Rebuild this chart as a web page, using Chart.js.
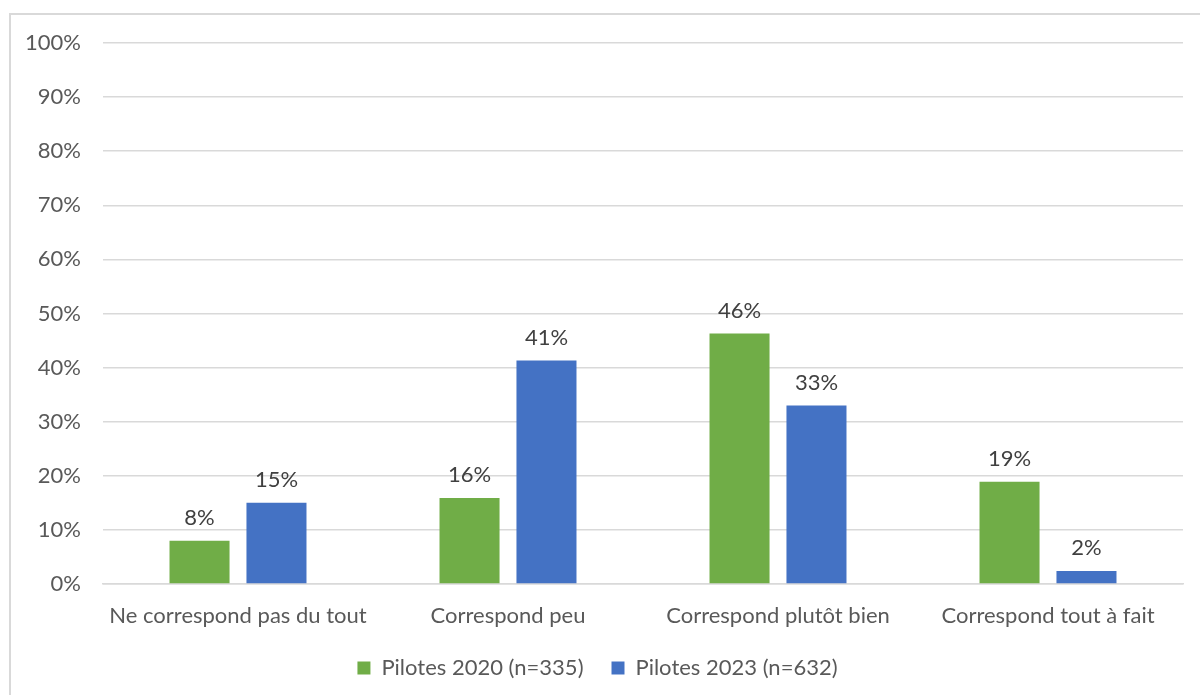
<!DOCTYPE html>
<html>
<head>
<meta charset="utf-8">
<script src="https://cdn.jsdelivr.net/npm/chart.js@4.4.1/dist/chart.umd.min.js"></script>
<style>
  html, body { margin: 0; padding: 0; background: #fff; overflow: hidden; }
  #frame { position: absolute; left: 0; top: 0; width: 1200px; height: 695px; }
  #border { position: absolute; left: 9px; top: 13px; width: 1300px; height: 800px;
            border-left: 2px solid #d9d9d9; border-top: 2px solid #d9d9d9; box-sizing: border-box; }
  canvas { position: absolute; left: 0; top: 0; }
</style>
</head>
<body>
<div id="frame">
  <div id="border"></div>
  <canvas id="chart" width="1200" height="695"></canvas>
</div>
<script>
const categories = ["Ne correspond pas du tout", "Correspond peu", "Correspond plutôt bien", "Correspond tout à fait"];
const pilotes2020 = [8.0, 15.9, 46.3, 18.9];
const pilotes2023 = [15.0, 41.3, 33.0, 2.4];
const seriesNames = ["Pilotes 2020 (n=335)", "Pilotes 2023 (n=632)"];
const yTicks = [0, 10, 20, 30, 40, 50, 60, 70, 80, 90, 100];

const FONT = "Lato, 'Open Sans', sans-serif";
const SIZE = 22;

// Writes each bar's rounded percentage just above it
const valueLabels = {
  id: 'valueLabels',
  afterDatasetsDraw(chart) {
    const ctx = chart.ctx;
    ctx.save();
    ctx.font = SIZE + "px " + FONT;
    ctx.fillStyle = "#404040";
    ctx.textAlign = "center";
    ctx.textBaseline = "bottom";
    chart.data.datasets.forEach((ds, i) => {
      chart.getDatasetMeta(i).data.forEach((bar, j) => {
        ctx.fillText(Math.round(ds.data[j]) + "%", bar.x, bar.y - 12);
      });
    });
    ctx.restore();
  }
};

new Chart(document.getElementById('chart'), {
  type: 'bar',
  data: {
    labels: categories,
    datasets: [
      { label: seriesNames[0], data: pilotes2020, backgroundColor: "#70AD47" },
      { label: seriesNames[1], data: pilotes2023, backgroundColor: "#4472C4" }
    ]
  },
  options: {
    responsive: false,
    animation: false,
    devicePixelRatio: 1,
    layout: { padding: { left: 12, right: 17, top: 43, bottom: 6 } },
    datasets: { bar: { categoryPercentage: 0.57, barPercentage: 0.78 } },
    scales: {
      x: {
        afterFit(axis) { axis.height = 45; },
        grid: { display: false, drawTicks: false },
        border: { color: "#d9d9d9", width: 1.5 },
        ticks: { color: "#595959", font: { family: FONT, size: SIZE }, padding: 19,
                 autoSkip: false, maxRotation: 0 }
      },
      y: {
        min: 0, max: 100,
        afterBuildTicks(axis) { axis.ticks = yTicks.map(v => ({ value: v })); },
        afterFit(axis) { axis.width = 91; },
        grid: { color: "#d9d9d9", lineWidth: 1.5, drawTicks: false },
        border: { display: false },
        ticks: { color: "#595959", font: { family: FONT, size: SIZE }, padding: 22,
                 callback: v => v + "%" }
      }
    },
    plugins: {
      legend: {
        position: 'bottom',
        labels: { color: "#595959", font: { family: FONT, size: SIZE },
                  boxWidth: 13, boxHeight: 13, padding: 28 }
      },
      tooltip: { enabled: false }
    }
  },
  plugins: [valueLabels]
});
</script>
</body>
</html>
